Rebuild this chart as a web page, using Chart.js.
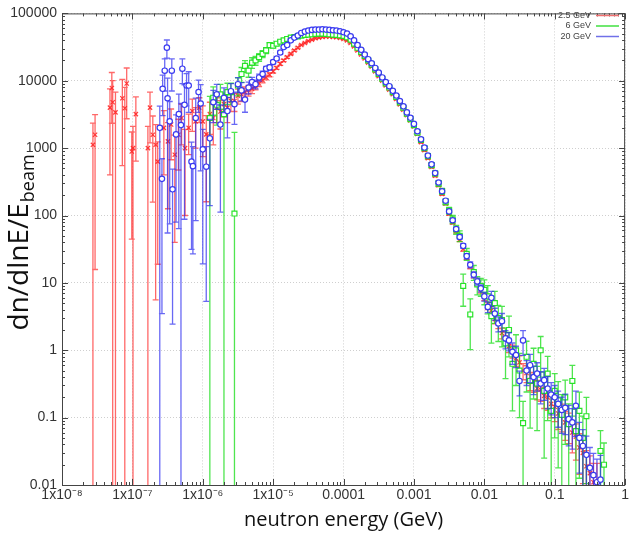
<!DOCTYPE html>
<html>
<head>
<meta charset="utf-8">
<script src="https://cdn.jsdelivr.net/npm/chart.js@4"></script>
<style>
  body { margin: 0; background: #fff; }
  canvas { display: block; }
</style>
</head>
<body>
<canvas id="chart" width="631" height="538"></canvas>
<script>
// axis ticks
const xTicks = [1e-8, 1e-7, 1e-6, 1e-5, 1e-4, 1e-3, 1e-2, 1e-1, 1];
const xTickLabels = ['1x10⁻⁸', '1x10⁻⁷', '1x10⁻⁶', '1x10⁻⁵', '0.0001', '0.001', '0.01', '0.1', '1'];
const yTicks = [0.01, 0.1, 1, 10, 100, 1000, 10000, 100000];
const yTickLabels = ['0.01', '0.1', '1', '10', '100', '1000', '10000', '100000'];

const seriesNames = ['2.5 GeV', '6 GeV', '20 GeV'];

// energy bins (GeV) used by the dense part of every series
const gridE = [
  1.00e-6, 1.12e-6, 1.26e-6, 1.41e-6, 1.58e-6, 1.78e-6, 2.00e-6, 2.24e-6, 2.51e-6, 2.82e-6,
  3.16e-6, 3.55e-6, 3.98e-6, 4.47e-6, 5.01e-6, 5.62e-6, 6.31e-6, 7.08e-6, 7.94e-6, 8.91e-6,
  1.00e-5, 1.12e-5, 1.26e-5, 1.41e-5, 1.58e-5, 1.78e-5, 2.00e-5, 2.24e-5, 2.51e-5, 2.82e-5,
  3.16e-5, 3.55e-5, 3.98e-5, 4.47e-5, 5.01e-5, 5.62e-5, 6.31e-5, 7.08e-5, 7.94e-5, 8.91e-5,
  1.00e-4, 1.12e-4, 1.26e-4, 1.41e-4, 1.58e-4, 1.78e-4, 2.00e-4, 2.24e-4, 2.51e-4, 2.82e-4,
  3.16e-4, 3.55e-4, 3.98e-4, 4.47e-4, 5.01e-4, 5.62e-4, 6.31e-4, 7.08e-4, 7.94e-4, 8.91e-4,
  1.00e-3, 1.12e-3, 1.26e-3, 1.41e-3, 1.58e-3, 1.78e-3, 2.00e-3, 2.24e-3, 2.51e-3, 2.82e-3,
  3.16e-3, 3.55e-3, 3.98e-3, 4.47e-3, 5.01e-3, 5.62e-3, 6.31e-3, 7.08e-3, 7.94e-3, 8.91e-3,
  1.00e-2, 1.12e-2, 1.26e-2, 1.41e-2, 1.58e-2, 1.78e-2, 2.00e-2, 2.24e-2, 2.51e-2, 2.82e-2,
  3.16e-2, 3.55e-2, 3.98e-2, 4.47e-2, 5.01e-2, 5.62e-2, 6.31e-2, 7.08e-2, 7.94e-2, 8.91e-2,
  1.00e-1, 1.12e-1, 1.26e-1, 1.41e-1, 1.58e-1, 1.78e-1, 2.00e-1, 2.24e-1, 2.51e-1, 2.82e-1,
  3.16e-1, 3.55e-1, 3.98e-1, 4.47e-1, 5.01e-1
];

// 2.5 GeV
const redLowE = [2.75e-8, 2.95e-8, 4.8e-8, 5.1e-8, 5.25e-8, 5.75e-8, 7.2e-8, 7.8e-8, 8.3e-8, 9.8e-8,
  1.02e-7, 1.12e-7, 1.66e-7, 1.78e-7, 1.95e-7, 2.14e-7, 2.29e-7, 2.8e-7, 3.2e-7, 3.55e-7,
  4.0e-7, 4.5e-7, 5.0e-7, 5.6e-7, 6.3e-7, 7.1e-7, 7.9e-7, 8.9e-7];
const redLowY = [1120, 1580, 4000, 7800, 4800, 3400, 5500, 3900, 9100, 890,
  1000, 3200, 1000, 4000, 1580, 1120, 630, 2000, 1260, 2240,
  800, 1580, 2800, 1000, 2000, 3550, 2500, 4000];
const redLowErr = [1.1, 0.99, 0.9, 0.7, 1.1, 1.0, 0.9, 1.05, 0.7, 0.95,
  1.1, 0.8, 1.1, 0.7, 0.9, 0.995, 0.97, 0.8, 0.9, 0.7,
  0.95, 0.7, 0.6, 0.9, 0.6, 0.5, 0.6, 0.4];
const redY = [
  2500, 1600, 3200, 2800, 4000, 3500, 4500, 4000, 5000, 5000,
  6000, 6300, 6760, 7240, 7590, 8300, 9100, 10200, 11200, 12300,
  13800, 15500, 17800, 20000, 22400, 25100, 28200, 30900, 33900, 36300,
  38900, 40700, 42700, 43700, 44700, 45200, 45200, 44700, 44200, 43200,
  41700, 39800, 36300, 32400, 28200, 24500, 21400, 18600, 16200, 13800,
  11700, 10000, 8500, 7400, 6300, 5370, 4470, 3720, 3090, 2570,
  2090, 1620, 1230, 933, 708, 525, 389, 282, 209, 151,
  107, 79, 59, 44, 32, 24, 17.8, 13.2, 10, 7.9,
  6.2, 4.6, 3.9, 2.9, 2.5, 1.8, 1.55, 1.15, 0.98, 0.76,
  0.66, 0.5, 0.46, 0.36, 0.34, 0.27, 0.26, 0.21, 0.2, 0.16,
  0.145, 0.115, 0.11, 0.085, 0.079, 0.06, 0.052, 0.036, 0.03, 0.019,
  0.015, 0.011, 0.0105, null, null
];
const redErr = [
  0.7, 0.9, 0.5, 0.6, 0.4, 0.45, 0.35, 0.4, 0.3, 0.3,
  0.25, 0.22, 0.2, 0.18, 0.15, 0.12, 0.1, 0.09, 0.08, 0.07,
  0.06, 0.05, 0.05, 0.04, 0.04, 0.03, 0.03, 0.03, 0.02, 0.02,
  0.02, 0.02, 0.02, 0.02, 0.02, 0.02, 0.02, 0.02, 0.02, 0.02,
  0.02, 0.02, 0.02, 0.02, 0.02, 0.02, 0.02, 0.02, 0.02, 0.02,
  0.02, 0.02, 0.02, 0.02, 0.02, 0.03, 0.03, 0.03, 0.03, 0.03,
  0.03, 0.03, 0.03, 0.04, 0.04, 0.04, 0.04, 0.05, 0.05, 0.05,
  0.06, 0.06, 0.07, 0.07, 0.08, 0.08, 0.09, 0.1, 0.1, 0.11,
  0.12, 0.13, 0.14, 0.15, 0.16, 0.18, 0.2, 0.2, 0.22, 0.24,
  0.25, 0.27, 0.28, 0.3, 0.3, 0.32, 0.33, 0.35, 0.36, 0.38,
  0.4, 0.42, 0.44, 0.46, 0.48, 0.5, 0.55, 0.6, 0.65, 0.7,
  0.8, 0.9, 1.0, null, null
];

// 6 GeV
const greenY = [
  null, null, 2800, 5600, 4400, 6300, 3200, 6800, 6800, 107,
  8500, 12600, 16600, 14100, 18600, 20000, 22400, 25100, 28200, 33900,
  33100, 35500, 38000, 39800, 41700, 43700, 44700, 45700, 46800, 47900,
  48500, 49000, 49600, 50100, 50100, 49600, 49000, 48500, 47900, 47300,
  46200, 44200, 40700, 35500, 30900, 26900, 23400, 20000, 17400, 14800,
  12600, 10700, 9120, 7940, 6760, 5750, 4790, 3980, 3240, 2690,
  2190, 1700, 1320, 1000, 760, 560, 420, 300, 230, 160,
  118, 88, 62, 50, 9, 27, 3.4, 14.5, 9.5, 9.0,
  7.9, 6.3, 3.2, 5.0, 3.0, 2.8, 1.26, 2.0, 0.63, 1.0,
  0.5, 0.083, 0.8, 0.35, 0.63, 0.32, 1.0, 0.25, 0.45, 0.126,
  0.25, 0.18, 0.11, 0.2, 0.08, 0.35, 0.063, 0.126, 0.05, 0.105,
  null, null, null, 0.032, 0.02
];
const greenErr = [
  null, null, 1.1, 0.45, 0.5, 0.4, 1.05, 0.35, 0.35, 15,
  0.3, 0.25, 0.2, 0.2, 0.18, 0.15, 0.13, 0.12, 0.1, 0.08,
  0.07, 0.06, 0.05, 0.04, 0.04, 0.03, 0.03, 0.03, 0.03, 0.03,
  0.03, 0.03, 0.03, 0.03, 0.03, 0.03, 0.03, 0.03, 0.03, 0.03,
  0.03, 0.03, 0.03, 0.03, 0.03, 0.03, 0.03, 0.03, 0.03, 0.03,
  0.03, 0.03, 0.03, 0.03, 0.03, 0.03, 0.03, 0.03, 0.03, 0.03,
  0.04, 0.05, 0.05, 0.06, 0.06, 0.07, 0.08, 0.09, 0.1, 0.1,
  0.12, 0.14, 0.15, 0.18, 0.5, 0.2, 0.7, 0.25, 0.3, 0.3,
  0.4, 0.45, 0.6, 0.5, 0.55, 0.6, 0.7, 0.6, 0.8, 0.7,
  0.8, 1.1, 0.7, 0.8, 0.7, 0.8, 0.6, 0.9, 0.8, 1.0,
  0.8, 0.9, 1.0, 0.8, 1.0, 0.7, 1.1, 0.9, 1.1, 0.9,
  null, null, null, 1.0, 1.1
];

// 20 GeV
const blueLowE = [2.45e-7, 2.63e-7, 2.69e-7, 2.88e-7, 3.09e-7, 3.16e-7, 3.39e-7, 3.63e-7, 3.72e-7, 4.17e-7,
  4.57e-7, 4.9e-7, 5.13e-7, 5.5e-7, 5.89e-7, 6.31e-7, 6.92e-7, 7.24e-7, 7.94e-7, 8.71e-7, 9.33e-7];
const blueLowY = [2000, 350, 7600, 14100, 31000, 5500, 2500, 14100, 245, 1600,
  3200, 2200, 15100, 4400, 8500, 8500, 630, 540, 2800, 6800, 4600];
const blueLowErr = [1.1, 0.99, 0.6, 0.5, 0.3, 0.99, 0.97, 0.5, 0.99, 0.95,
  0.98, 1.1, 0.4, 0.98, 0.5, 0.6, 0.95, 0.95, 0.97, 0.5, 0.9];
const blueY = [
  960, 530, 1400, 4800, 6300, 2240, 5600, 3550, 7000, 4500,
  8900, 7200, 5250, 7950, 9550, 8900, 11200, 12600, 15100, 15800,
  19000, 21400, 26300, 31600, 33900, 39800, 43700, 46800, 51300, 53700,
  55600, 56900, 57500, 57500, 58200, 57500, 56900, 56200, 55600, 54300,
  52500, 50100, 45700, 39800, 33900, 28800, 24500, 20900, 18200, 15500,
  13200, 11200, 9550, 8300, 7080, 6030, 5010, 4170, 3390, 2820,
  2290, 1780, 1350, 1020, 776, 575, 427, 309, 229, 166,
  115, 85, 63, 48, 35.5, 25, 18.6, 13.2, 10.5, 8.3,
  6.3, 4.4, 6.0, 3.5, 2.5, 2.7, 1.5, 1.4, 0.95, 0.85,
  0.35, 1.4, 0.5, 0.6, 0.4, 0.45, 0.32, 0.36, 0.27, 0.22,
  0.2, 0.16, 0.13, 0.14, 0.095, 0.085, 0.15, 0.05, 0.038, 0.028,
  0.018, 0.014, 0.011, 0.012, null
];
const blueErr = [
  0.98, 0.99, 0.9, 0.5, 0.4, 0.95, 0.4, 0.6, 0.3, 0.5,
  0.25, 0.3, 0.35, 0.2, 0.18, 0.15, 0.12, 0.1, 0.08, 0.08,
  0.06, 0.05, 0.05, 0.04, 0.04, 0.03, 0.03, 0.03, 0.02, 0.02,
  0.02, 0.02, 0.02, 0.02, 0.02, 0.02, 0.02, 0.02, 0.02, 0.02,
  0.02, 0.02, 0.02, 0.02, 0.02, 0.02, 0.02, 0.02, 0.02, 0.02,
  0.02, 0.02, 0.02, 0.02, 0.02, 0.02, 0.02, 0.02, 0.02, 0.02,
  0.03, 0.03, 0.03, 0.03, 0.03, 0.03, 0.03, 0.03, 0.03, 0.03,
  0.05, 0.06, 0.06, 0.07, 0.08, 0.09, 0.1, 0.1, 0.12, 0.12,
  0.15, 0.18, 0.25, 0.2, 0.25, 0.3, 0.3, 0.3, 0.35, 0.35,
  0.4, 0.4, 0.4, 0.45, 0.45, 0.45, 0.5, 0.5, 0.5, 0.5,
  0.5, 0.55, 0.55, 0.6, 0.6, 0.6, 0.65, 0.7, 0.75, 0.9,
  1.0, 1.1, 1.2, 1.3, null
];

function points(E, Y, Err) {
  const out = [];
  E.forEach((e, i) => {
    if (Y[i] != null) out.push({ x: e, y: Y[i], err: Err[i] });
  });
  return out;
}

const redPts = points(redLowE, redLowY, redLowErr).concat(points(gridE, redY, redErr));
const greenPts = points(gridE, greenY, greenErr);
const bluePts = points(blueLowE, blueLowY, blueLowErr).concat(points(gridE, blueY, blueErr));

// vertical error bars drawn under each dataset's markers
const errorBars = {
  id: 'errorBars',
  beforeDatasetDraw(chart, args) {
    const ds = chart.data.datasets[args.index];
    const { ctx, chartArea: a } = chart;
    const x = chart.scales.x, y = chart.scales.y;
    ctx.save();
    ctx.beginPath();
    ctx.rect(a.left, a.top, a.right - a.left, a.bottom - a.top);
    ctx.clip();
    ctx.strokeStyle = ds.errColor;
    ctx.lineWidth = 1.3;
    ctx.beginPath();
    ds.data.forEach(p => {
      const px = x.getPixelForValue(p.x);
      const top = y.getPixelForValue(p.y * (1 + p.err));
      const lo = p.y * (1 - p.err);
      const bot = lo > 0 ? y.getPixelForValue(lo) : a.bottom + 2;
      ctx.moveTo(px, top); ctx.lineTo(px, bot);
      ctx.moveTo(px - 3, top); ctx.lineTo(px + 3, top);
      if (lo > 0) { ctx.moveTo(px - 3, bot); ctx.lineTo(px + 3, bot); }
    });
    ctx.stroke();
    ctx.restore();
  }
};

// frame with inward minor/major ticks, y title with subscript, legend
const decor = {
  id: 'decor',
  afterDraw(chart) {
    const { ctx, chartArea: a } = chart;
    const x = chart.scales.x, y = chart.scales.y;
    ctx.save();
    ctx.strokeStyle = '#444';
    ctx.lineWidth = 1;
    ctx.strokeRect(a.left + 0.5, a.top + 0.5, a.right - a.left - 1, a.bottom - a.top);
    ctx.beginPath();
    for (let d = -8; d <= 0; d++) {
      for (let m = 1; m <= 9; m++) {
        const v = m * Math.pow(10, d);
        if (v > 1.0001) break;
        const px = Math.round(x.getPixelForValue(v)) + 0.5;
        const len = m === 1 ? 6 : 3;
        ctx.moveTo(px, a.bottom); ctx.lineTo(px, a.bottom - len);
        ctx.moveTo(px, a.top); ctx.lineTo(px, a.top + len);
      }
    }
    for (let d = -2; d <= 5; d++) {
      for (let m = 1; m <= 9; m++) {
        const v = m * Math.pow(10, d);
        if (v > 100001) break;
        const py = Math.round(y.getPixelForValue(v)) + 0.5;
        const len = m === 1 ? 6 : 3;
        ctx.moveTo(a.left, py); ctx.lineTo(a.left + len, py);
        ctx.moveTo(a.right, py); ctx.lineTo(a.right - len, py);
      }
    }
    ctx.stroke();

    // y axis title
    ctx.translate(20, 243);
    ctx.rotate(-Math.PI / 2);
    ctx.fillStyle = '#111';
    ctx.textBaseline = 'middle';
    const main = 'dn/dlnE/E';
    ctx.font = '28px "Open Sans"';
    const w1 = ctx.measureText(main).width;
    ctx.font = '18px "Open Sans"';
    const w2 = ctx.measureText('beam').width;
    const start = -(w1 + w2) / 2;
    ctx.font = '28px "Open Sans"';
    ctx.textAlign = 'left';
    ctx.fillText(main, start, 0);
    ctx.font = '18px "Open Sans"';
    ctx.fillText('beam', start + w1 + 1, 9);
    ctx.setTransform(1, 0, 0, 1, 0, 0);

    // legend
    ctx.font = '9px "Liberation Sans"';
    ctx.textAlign = 'right';
    ctx.textBaseline = 'middle';
    ctx.fillStyle = '#444';
    chart.data.datasets.forEach((ds, i) => {
      const ly = 15.5 + i * 10.5;
      ctx.fillText(ds.label, 591, ly);
      ctx.strokeStyle = ds.legendColor;
      ctx.lineWidth = 1.5;
      ctx.beginPath();
      ctx.moveTo(596, ly); ctx.lineTo(619, ly);
      ctx.stroke();
    });
    ctx.restore();
  }
};

new Chart(document.getElementById('chart'), {
  type: 'scatter',
  data: {
    datasets: [
      {
        label: seriesNames[0], data: redPts, order: 3,
        pointStyle: 'crossRot', pointRadius: 3, borderWidth: 1.2,
        borderColor: 'rgba(255,40,40,0.9)', backgroundColor: '#fff',
        errColor: 'rgba(255,40,40,0.7)', legendColor: '#f07070'
      },
      {
        label: seriesNames[1], data: greenPts, order: 2,
        pointStyle: 'rect', pointRadius: 3.5, borderWidth: 1.2,
        borderColor: 'rgba(30,225,30,0.95)', backgroundColor: '#fff',
        errColor: 'rgba(20,220,20,0.75)', legendColor: '#40e040'
      },
      {
        label: seriesNames[2], data: bluePts, order: 1,
        pointStyle: 'circle', pointRadius: 2.7, borderWidth: 1.2,
        borderColor: 'rgba(50,50,240,0.95)', backgroundColor: '#fff',
        errColor: 'rgba(40,40,240,0.7)', legendColor: '#7070e8'
      }
    ]
  },
  options: {
    responsive: false,
    animation: false,
    showLine: false,
    layout: { padding: { top: 6, right: 4, left: 0, bottom: 0 } },
    plugins: {
      legend: { display: false },
      tooltip: { enabled: false }
    },
    scales: {
      x: {
        type: 'logarithmic',
        min: 1e-8,
        max: 1,
        afterBuildTicks: s => { s.ticks = xTicks.map(v => ({ value: v })); },
        afterFit: s => { s.height = 53; },
        ticks: {
          autoSkip: false,
          maxRotation: 0,
          padding: 2,
          color: '#333',
          font: { family: 'Liberation Sans', size: 14 },
          callback: (v, i) => xTickLabels[i]
        },
        grid: { color: '#cfcfcf', drawTicks: false },
        border: { display: false, dash: [1, 2] },
        title: {
          display: true,
          text: 'neutron energy (GeV)',
          color: '#111',
          font: { family: 'Open Sans', size: 20 },
          padding: { top: 0, bottom: 6 }
        }
      },
      y: {
        type: 'logarithmic',
        min: 0.01,
        max: 100000,
        afterBuildTicks: s => { s.ticks = yTicks.map(v => ({ value: v })); },
        afterFit: s => { s.width = 62; },
        ticks: {
          autoSkip: false,
          padding: 5,
          color: '#333',
          font: { family: 'Liberation Sans', size: 14 },
          callback: (v, i) => yTickLabels[i]
        },
        grid: { color: '#cfcfcf', drawTicks: false },
        border: { display: false, dash: [1, 2] }
      }
    }
  },
  plugins: [errorBars, decor]
});
</script>
</body>
</html>
